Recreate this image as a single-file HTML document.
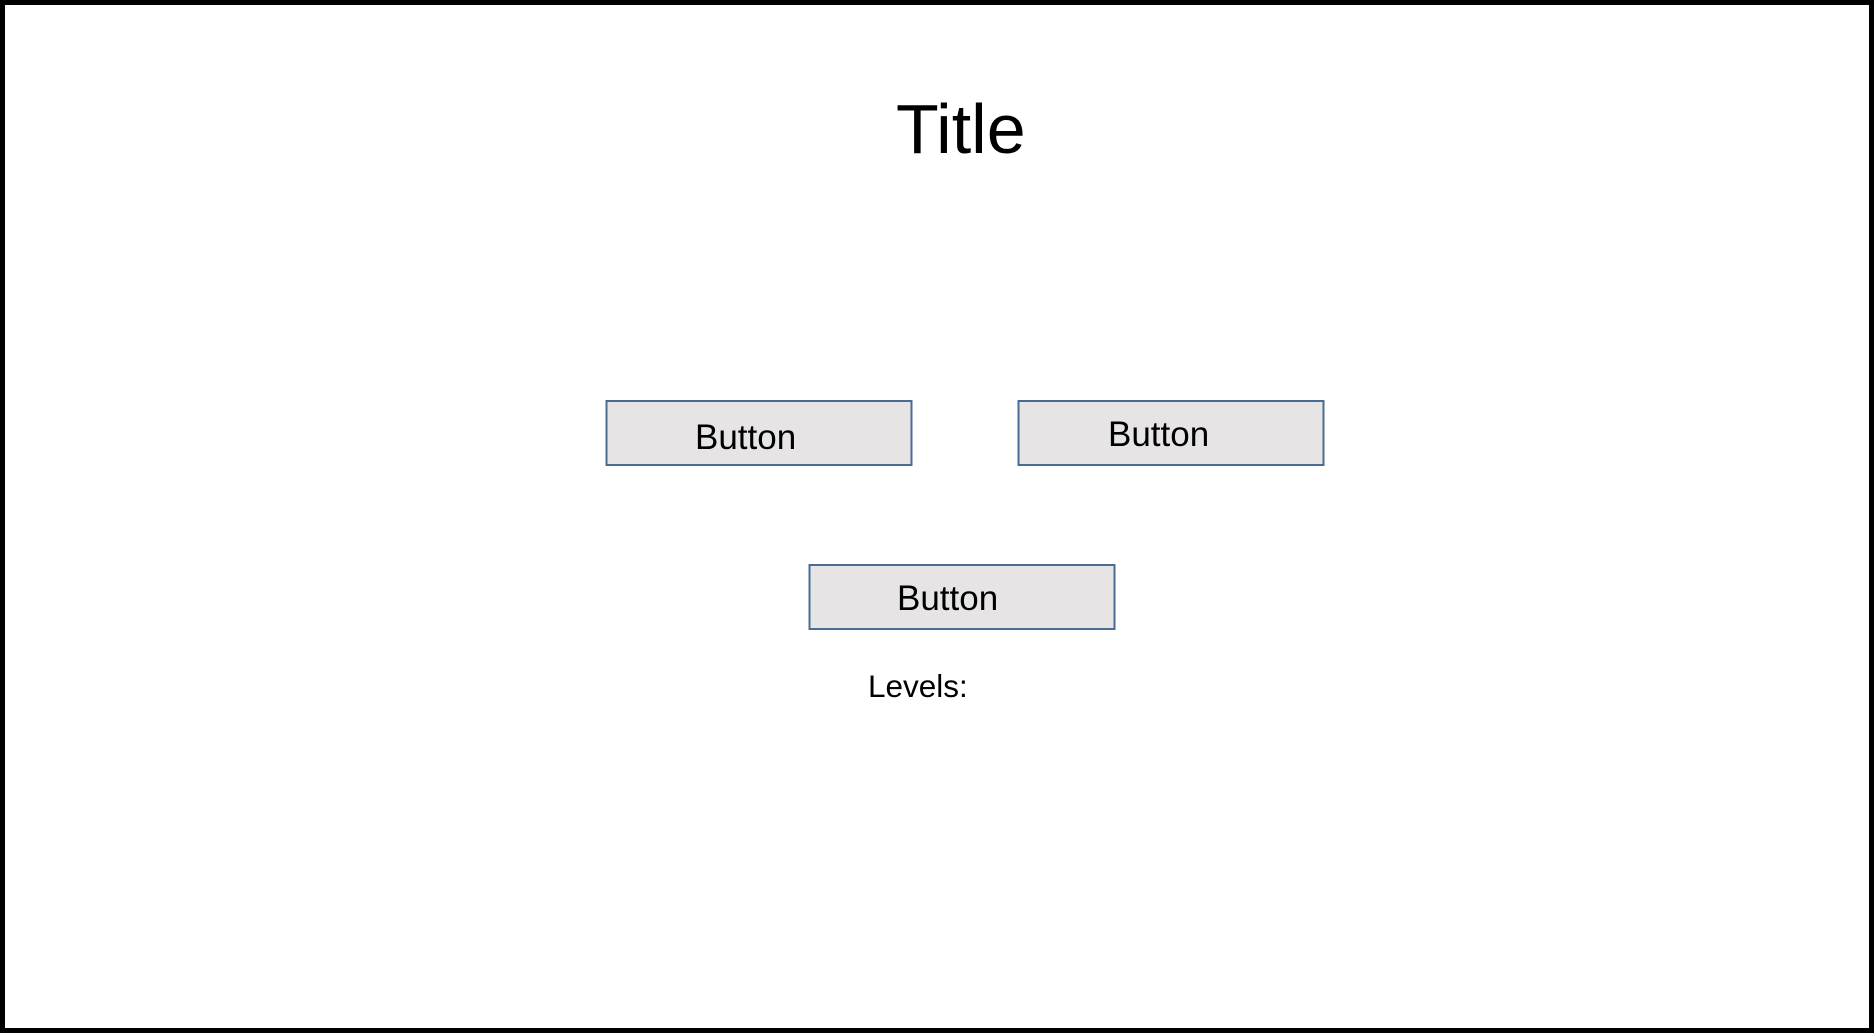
<!DOCTYPE html>
<html><head><style>
html,body{margin:0;padding:0;background:#fff;}
svg{display:block;}
</style></head><body>
<svg width="1874" height="1033" xmlns="http://www.w3.org/2000/svg" font-family="'Liberation Sans', sans-serif">
<rect x="2.5" y="2.5" width="1869" height="1028" fill="#fff" stroke="#000" stroke-width="5"/>
<text x="896" y="153" font-size="70" fill="#000">Title</text>
<rect x="606.5" y="401" width="305" height="64" fill="#e6e4e5" stroke="#4a6c94" stroke-width="2"/>
<rect x="1018.5" y="401" width="305" height="64" fill="#e6e4e5" stroke="#4a6c94" stroke-width="2"/>
<rect x="809.5" y="565" width="305" height="64" fill="#e6e4e5" stroke="#4a6c94" stroke-width="2"/>
<text x="695" y="449" font-size="35" fill="#000">Button</text>
<text x="1108" y="446" font-size="35" fill="#000">Button</text>
<text x="897" y="610" font-size="35" fill="#000">Button</text>
<text x="868" y="697" font-size="31.5" fill="#000">Levels:</text>
</svg>
</body></html>
